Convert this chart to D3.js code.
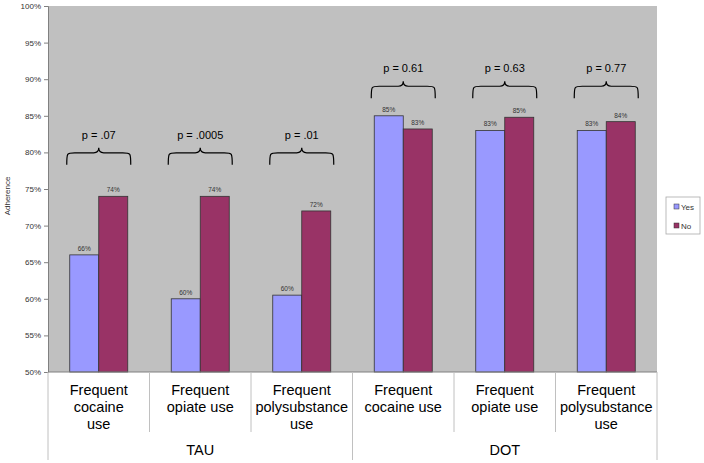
<!DOCTYPE html>
<html><head><meta charset="utf-8">
<script src="https://cdn.jsdelivr.net/npm/d3@7"></script>
<style>
body{margin:0;background:#fff;}
text{font-family:"Liberation Sans",Arial,sans-serif;}
</style></head>
<body><svg id="c" width="704" height="463"></svg>
<script>
const categories = ["Frequent\ncocaine\nuse","Frequent\nopiate use","Frequent\npolysubstance\nuse","Frequent\ncocaine use","Frequent\nopiate use","Frequent\npolysubstance\nuse"];
const groups = ["TAU","TAU","TAU","DOT","DOT","DOT"];
const groupNames = ["TAU","DOT"];
const series = ["Yes","No"];
const yesValues = [66, 60, 60.5, 85, 83, 83];
const noValues  = [74, 74, 72, 83.2, 84.8, 84.2];
const yesLabels = ["66%","60%","60%","85%","83%","83%"];
const noLabels  = ["74%","74%","72%","83%","85%","84%"];
const pValues = ["p = .07","p = .0005","p = .01","p = 0.61","p = 0.63","p = 0.77"];
const yTicks = [50,55,60,65,70,75,80,85,90,95,100];

const colors = {Yes:"#9999ff", No:"#993366"};
const svg = d3.select("#c");
const L=48, R=657, T=6, B=372;

const y = d3.scaleLinear().domain([50,100]).range([B,T]);
const x0 = d3.scaleBand().domain(d3.range(categories.length)).range([L,R]).padding(0);
const x1 = d3.scaleBand().domain(series).range([0,x0.bandwidth()]).paddingInner(0).paddingOuter(0.75);

// plot background
svg.append("rect").attr("x",L).attr("y",T).attr("width",R-L).attr("height",B-T).attr("fill","#c0c0c0");

// y axis
const ya = svg.append("g").attr("transform",`translate(${L},0)`)
  .call(d3.axisLeft(y).tickValues(yTicks).tickSize(4).tickPadding(3).tickFormat(d=>d+"%"));
ya.select(".domain").attr("stroke","#808080");
ya.selectAll(".tick line").attr("stroke","#808080");
ya.selectAll(".tick text").attr("font-size","8px").attr("fill","#333").attr("font-family","Liberation Sans, Arial, sans-serif");

svg.append("text").attr("transform",`translate(10,196) rotate(-90)`).attr("text-anchor","middle")
  .attr("font-size","8px").attr("fill","#333").text("Adherence");

// bars
const rows = categories.map((c,i)=>({i, vals:[{s:"Yes",v:yesValues[i],l:yesLabels[i]},{s:"No",v:noValues[i],l:noLabels[i]}]}));
const g = svg.selectAll("g.cat").data(rows).join("g").attr("class","cat")
  .attr("transform",d=>`translate(${x0(d.i)},0)`);
g.selectAll("rect").data(d=>d.vals).join("rect")
  .attr("x",d=>x1(d.s)).attr("y",d=>y(d.v)).attr("width",x1.bandwidth()).attr("height",d=>B-y(d.v))
  .attr("fill",d=>colors[d.s]).attr("stroke","#333").attr("stroke-width",0.8);
g.selectAll("text.vl").data(d=>d.vals).join("text").attr("class","vl")
  .attr("x",d=>x1(d.s)+x1.bandwidth()/2).attr("y",d=>y(d.v)-4).attr("text-anchor","middle")
  .attr("font-size","6.5px").attr("fill","#333").text(d=>d.l);

// x axis line
svg.append("line").attr("x1",L).attr("x2",R).attr("y1",B).attr("y2",B).attr("stroke","#808080");

// braces + p values
const braceEnd = {TAU:78.3, DOT:87.4};
rows.forEach(r=>{
  const cx = x0(r.i)+x0.bandwidth()/2;
  const hw = x1.bandwidth()+3;
  const yb = y(braceEnd[groups[r.i]]);
  const yf = yb-12, yp = yb-17;
  const a = cx-hw, b = cx+hw;
  const p = `M${a},${yb} C${a},${yf} ${a},${yf} ${a+8},${yf} L${cx-5},${yf} C${cx-2},${yf} ${cx},${yf-1} ${cx},${yp} C${cx},${yf-1} ${cx+2},${yf} ${cx+5},${yf} L${b-8},${yf} C${b},${yf} ${b},${yf} ${b},${yb}`;
  svg.append("path").attr("d",p).attr("fill","none").attr("stroke","#000").attr("stroke-width",1.2);
  svg.append("text").attr("x",cx).attr("y",yp-9).attr("text-anchor","middle")
    .attr("font-size","11px").attr("fill","#000").text(pValues[r.i]);
});

// category labels & separators
categories.forEach((c,i)=>{
  const cx = x0(i)+x0.bandwidth()/2;
  const t = svg.append("text").attr("text-anchor","middle").attr("font-size","14.5px").attr("fill","#000");
  c.split("\n").forEach((ln,k)=>t.append("tspan").attr("x",cx).attr("y",395+k*17).text(ln));
});
d3.range(1,categories.length).filter(i=>groups[i]===groups[i-1]).forEach(i=>{
  svg.append("line").attr("x1",x0(i)).attr("x2",x0(i)).attr("y1",B).attr("y2",432).attr("stroke","#c0c0c0");
});
const gBounds = [L];
d3.range(1,categories.length).filter(i=>groups[i]!==groups[i-1]).forEach(i=>gBounds.push(x0(i)));
gBounds.push(R);
gBounds.forEach(xv=>svg.append("line").attr("x1",xv).attr("x2",xv).attr("y1",B).attr("y2",460).attr("stroke","#c0c0c0"));
groupNames.forEach((gn,k)=>{
  const idx = groups.map((gg,i)=>gg===gn?i:-1).filter(i=>i>=0);
  const cx = (x0(idx[0]) + x0(idx[idx.length-1])+x0.bandwidth())/2;
  svg.append("text").attr("x",cx).attr("y",455).attr("text-anchor","middle").attr("font-size","14.5px").text(gn);
});

// legend
const lg = svg.append("g").attr("transform","translate(666,197)");
lg.append("rect").attr("width",34).attr("height",37).attr("fill","#fff").attr("stroke","#aaa").attr("stroke-width",0.8);
series.forEach((s,k)=>{
  lg.append("rect").attr("x",8).attr("y",7+k*19).attr("width",5).attr("height",5).attr("fill",colors[s]).attr("stroke","#333").attr("stroke-width",0.5);
  lg.append("text").attr("x",15).attr("y",12.5+k*19).attr("font-size","8px").attr("fill","#333").text(s);
});
</script></body></html>
